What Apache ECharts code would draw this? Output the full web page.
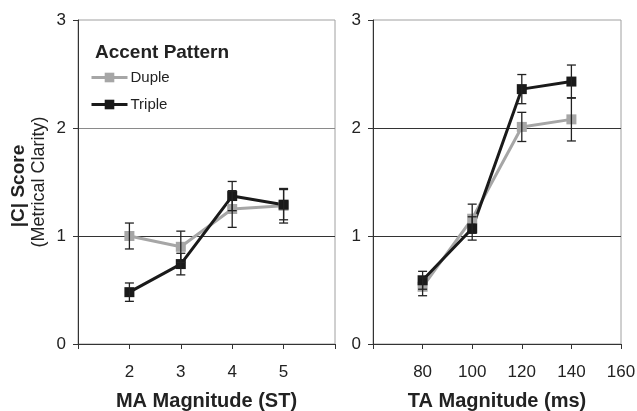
<!DOCTYPE html>
<html>
<head>
<meta charset="utf-8">
<script src="https://cdn.jsdelivr.net/npm/echarts@6/dist/echarts.min.js"></script>
<style>
  html, body { margin: 0; padding: 0; background: #fff; }
  #chart { width: 637px; height: 411px; }
</style>
</head>
<body>
<div id="chart"></div>
<script>
// MA panel (semitones)
const maLevels = [2, 3, 4, 5]
const maDuple = [1.00, 0.90, 1.25, 1.28]
const maDupleErr = [0.12, 0.145, 0.17, 0.16]
const maTriple = [0.48, 0.74, 1.37, 1.29]
const maTripleErr = [0.085, 0.10, 0.135, 0.14]

// TA panel (ms)
const taLevels = [80, 100, 120, 140]
const taDuple = [0.53, 1.16, 2.01, 2.08]
const taDupleErr = [0.083, 0.135, 0.135, 0.20]
const taTriple = [0.59, 1.07, 2.36, 2.43]
const taTripleErr = [0.083, 0.108, 0.135, 0.153]

const yTicks = [0, 1, 2, 3]
const FONT = 'Liberation Sans, Arial, sans-serif'
const GRAY = '#a6a6a6'
const BLACK = '#1a1a1a'

const pts = (xs, ys) => xs.map((x, i) => [x, ys[i]])
const errs = (xs, ys, es) => xs.map((x, i) => [x, ys[i] - es[i], ys[i] + es[i]])

function errorBars(data, gi) {
  return {
    type: 'custom', xAxisIndex: gi, yAxisIndex: gi, z: 5, silent: true,
    renderItem(params, api) {
      const lo = api.coord([api.value(0), api.value(1)])
      const hi = api.coord([api.value(0), api.value(2)])
      const w = 4.5
      const style = { stroke: '#222', lineWidth: 1.3 }
      return {
        type: 'group',
        children: [
          { type: 'line', shape: { x1: lo[0], y1: lo[1], x2: hi[0], y2: hi[1] }, style },
          { type: 'line', shape: { x1: lo[0] - w, y1: lo[1], x2: lo[0] + w, y2: lo[1] }, style },
          { type: 'line', shape: { x1: hi[0] - w, y1: hi[1], x2: hi[0] + w, y2: hi[1] }, style },
        ],
      }
    },
    data,
  }
}

function lineSeries(name, data, color, gi) {
  return {
    name, type: 'line', xAxisIndex: gi, yAxisIndex: gi, data,
    symbol: 'rect', symbolSize: 10, z: 3,
    lineStyle: { color, width: 3 },
    itemStyle: { color },
  }
}

function xAxis(gi, min, max, interval, hidden, name) {
  return {
    type: 'value', gridIndex: gi, min, max, interval,
    axisLine: { lineStyle: { color: '#333', width: 1 } },
    axisTick: { length: 5, lineStyle: { color: '#333' } },
    axisLabel: {
      fontSize: 17, color: '#222', fontFamily: FONT, margin: 20,
      formatter: v => (hidden.includes(v) ? '' : String(v)),
    },
    splitLine: { show: false },
    name, nameLocation: 'middle', nameGap: 47,
    nameTextStyle: { fontSize: 20, fontWeight: 'bold', color: '#222', fontFamily: FONT },
  }
}

function yAxis(gi, splitColors) {
  return {
    type: 'value', gridIndex: gi, min: yTicks[0], max: yTicks[yTicks.length - 1], interval: 1,
    axisLine: { show: true, lineStyle: { color: '#333', width: 1 } },
    axisTick: { show: true, length: 5, lineStyle: { color: '#333' } },
    axisLabel: { fontSize: 17, color: '#222', fontFamily: FONT, margin: 12 },
    splitLine: { show: true, showMinLine: false, showMaxLine: false, lineStyle: { color: splitColors, width: 1 } },
  }
}

const chart = echarts.init(document.getElementById('chart'))
chart.setOption({
  animation: false,
  grid: [
    { left: 78, top: 20, width: 257, height: 324, outerBoundsMode: 'none', show: true, borderColor: '#a0a0a0', borderWidth: 1 },
    { left: 373, top: 20, width: 248, height: 324, outerBoundsMode: 'none', show: true, borderColor: '#a0a0a0', borderWidth: 1 },
  ],
  xAxis: [
    xAxis(0, 1, 6, 1, [1, 6], 'MA Magnitude (ST)'),
    xAxis(1, 60, 160, 20, [60], 'TA Magnitude (ms)'),
  ],
  yAxis: [
    yAxis(0, ['#333', '#8a8a8a']),
    yAxis(1, ['#333', '#333']),
  ],
  legend: {
    orient: 'vertical', left: 90, top: 70, padding: 0,
    itemWidth: 36, itemHeight: 12, itemGap: 12,
    lineStyle: { width: 3 },
    textStyle: { fontSize: 15, color: '#222', fontFamily: FONT, padding: [0, 0, 0, -2] },
    data: ['Duple', 'Triple'],
  },
  graphic: [
    { type: 'text', left: 95, top: 43, style: { text: 'Accent Pattern', font: 'bold 19px ' + FONT, fill: '#222' } },
    { type: 'text', x: 19, y: 186, rotation: Math.PI / 2,
      style: { text: '|C| Score', font: 'bold 19px ' + FONT, fill: '#222', align: 'center', verticalAlign: 'middle' } },
    { type: 'text', x: 39, y: 182, rotation: Math.PI / 2,
      style: { text: '(Metrical Clarity)', font: '18px ' + FONT, fill: '#222', align: 'center', verticalAlign: 'middle' } },
  ],
  series: [
    lineSeries('Duple', pts(maLevels, maDuple), GRAY, 0),
    lineSeries('Triple', pts(maLevels, maTriple), BLACK, 0),
    errorBars(errs(maLevels, maDuple, maDupleErr), 0),
    errorBars(errs(maLevels, maTriple, maTripleErr), 0),
    lineSeries('Duple', pts(taLevels, taDuple), GRAY, 1),
    lineSeries('Triple', pts(taLevels, taTriple), BLACK, 1),
    errorBars(errs(taLevels, taDuple, taDupleErr), 1),
    errorBars(errs(taLevels, taTriple, taTripleErr), 1),
  ],
})
</script>
</body>
</html>
